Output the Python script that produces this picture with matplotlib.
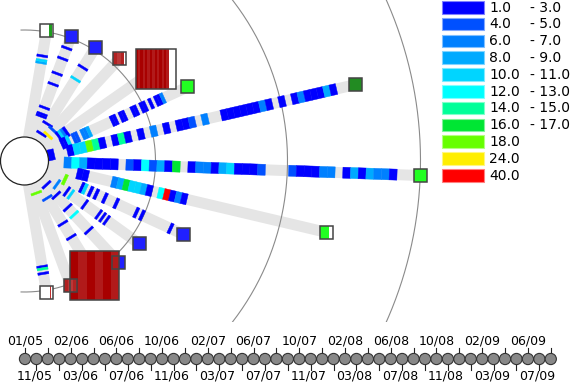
import numpy as np
import matplotlib
matplotlib.use('Agg')
import matplotlib.pyplot as plt
from matplotlib.patches import Polygon, Circle, Rectangle

# value classes shown in the legend
CLASS_LOW = ['1.0', '4.0', '6.0', '8.0', '10.0', '12.0', '14.0', '16.0', '18.0', '24.0', '40.0']
CLASS_HIGH = ['- 3.0', '- 5.0', '- 7.0', '- 9.0', '- 11.0', '- 13.0', '- 15.0', '- 17.0', '', '', '']
CLASS_COLORS = ['#0000ff', '#0050ff', '#0080ff', '#00aaff', '#00d5ff', '#00ffff',
                '#00ff99', '#00e633', '#66ff00', '#ffee00', '#ff0000']

# one ray per item: direction (deg), length (px from hub centre)
RAY_ANGLES = [80.4, 69.5, 58.0, 47.2, 35.0, 24.4, 13.0, -2.1, -13.3, -24.8, -35.8, -47.2, -58.4, -69.7, -80.5]
RAY_LENGTHS = [132.6, 133, 134.3, 139.8, 160, 179.4, 340, 396, 310, 175, 141.7, 139, 134, 133, 133.3]

# monthly slots along each ray: '.' = nothing, '0'..'9','a' = value class
RAY_CODES = [
    '.................................34.0',
    '..........00..0..........0....0......0....0',
    '...0....0......................4.....0',
    '....9..1',
    '......0420',
    '.....004.11.223.......00.00..00.00.0.002',
    '0..044860.060.0.2.0.001.2..00000020.0.0200030',
    '..2530000.1051307.0220340001...100022.0303220',
    '.....00....2374430.5a020',
    '......8.....04.0.0..0...0......0.0.........0',
    '......2....0.4......0......0.0.0',
    '...0.....0......0...5........0',
    '........1............0......0',
    '....8',
    '....................................06.0',
]

# end boxes: size, colour, coloured span (fraction of width), stripe count
BOX_SIZES = [13, 13, 13, 13, 40, 13, 13, 13, 13, 13, 13, 13, 49, 13, 13]
BOX_COLORS = ['#1f9e1f', '#2020ff', '#2020ff', '#b22222', '#a80000', '#22ff22', '#228b22',
              '#22ff22', '#22ff22', '#2020ff', '#2020ff', '#2020ff', '#a80000', '#b22222', '#c03030']
BOX_SPANS = [(0.69, 0.94), (0, 1), (0, 1), (0, 0.88), (0, 0.83), (0, 1), (0, 1), (0, 1),
             (0, 0.73), (0, 1), (0, 1), (0, 1), (0, 1), (0, 1), (0.76, 0.87)]
BOX_STRIPES = [1, 1, 1, 3, 14, 1, 1, 1, 1, 1, 1, 1, 6, 3, 1]

RING_RADII = [131, 263, 396]
N_SLOTS = 48

# time line
N_MONTHS = 47
TOP_LABELS = ['01/05', '02/06', '06/06', '10/06', '02/07', '06/07',
              '10/07', '02/08', '06/08', '10/08', '02/09', '06/09']
BOTTOM_LABELS = ['11/05', '03/06', '07/06', '11/06', '03/07', '07/07',
                 '11/07', '03/08', '07/08', '11/08', '03/09', '07/09']

# layout (pixels)
W, H = 572, 382
CX, CY = 24.5, 161
HUB_R = 24
BAND_HW = 5.5
RADIAL_BOTTOM = 322
TL_X0, TL_STEP, TL_Y, TL_R = 25, 11.43, 359, 5.6


def quad(angle, r1, r2, hw):
    a = np.radians(angle)
    u = np.array([np.cos(a), -np.sin(a)])
    n = np.array([np.sin(a), np.cos(a)])
    c = np.array([CX, CY])
    return [c + r1 * u + hw * n, c + r2 * u + hw * n, c + r2 * u - hw * n, c + r1 * u - hw * n]


def lighten(hexcol, f):
    rgb = np.array(matplotlib.colors.to_rgb(hexcol))
    return tuple(rgb + (1 - rgb) * f)


fig = plt.figure(figsize=(W / 100, H / 100), dpi=100)
ax = fig.add_axes([0, 0, 1, 1])
ax.set_xlim(0, W)
ax.set_ylim(H, 0)
ax.axis('off')

# grey bands
for ang, length in zip(RAY_ANGLES, RAY_LENGTHS):
    ax.add_patch(Polygon(quad(ang, 0, length, BAND_HW), closed=True,
                         facecolor='#e5e5e5', edgecolor='none', zorder=1))

# rings, cut at the bottom of the radial panel
clip = Rectangle((0, 0), W, RADIAL_BOTTOM, transform=ax.transData, facecolor='none', edgecolor='none')
ax.add_patch(clip)
for R in RING_RADII:
    th = np.radians(np.linspace(-91.5, 91.5, 400))
    ring, = ax.plot(CX + R * np.cos(th), CY - R * np.sin(th), color='#8a8a8a', lw=0.8, zorder=1.5)
    ring.set_clip_path(clip)

# coloured monthly segments
for ang, length, code in zip(RAY_ANGLES, RAY_LENGTHS, RAY_CODES):
    step = (length - HUB_R) / N_SLOTS
    for i, ch in enumerate(code):
        if ch == '.':
            continue
        cls = int(ch, 16)
        r1 = HUB_R + i * step
        ax.add_patch(Polygon(quad(ang, r1, r1 + step, BAND_HW), closed=True,
                             facecolor=CLASS_COLORS[cls], edgecolor=CLASS_COLORS[cls],
                             lw=0.3, zorder=2))

# end boxes
for ang, length, s, col, span, nstr in zip(RAY_ANGLES, RAY_LENGTHS, BOX_SIZES, BOX_COLORS,
                                           BOX_SPANS, BOX_STRIPES):
    a = np.radians(ang)
    bx = CX + length * np.cos(a) - s / 2
    by = CY - length * np.sin(a) - s / 2
    ax.add_patch(Rectangle((bx, by), s, s, facecolor='white', edgecolor='none', zorder=4))
    x0, x1 = bx + span[0] * s, bx + span[1] * s
    sw = (x1 - x0) / nstr
    for k in range(nstr):
        c = col if k % 2 == 0 else lighten(col, 0.1)
        ax.add_patch(Rectangle((x0 + k * sw, by), sw, s, facecolor=c, edgecolor='none', zorder=4.1))
    ax.add_patch(Rectangle((bx, by), s, s, facecolor='none', edgecolor='#444444', lw=1.1, zorder=4.2))

# hub
ax.add_patch(Circle((CX, CY), HUB_R, facecolor='white', edgecolor='#222222', lw=0.9, zorder=5))

# legend
for i, (lo, hi, col) in enumerate(zip(CLASS_LOW, CLASS_HIGH, CLASS_COLORS)):
    top = 1 + 16.8 * i
    ax.add_patch(Rectangle((442, top), 42, 12.5, facecolor=col, edgecolor=lighten(col, 0.5),
                           lw=0.8, zorder=3))
    ax.text(489, top + 6.5, lo, ha='left', va='center', fontsize=10, color='black')
    if hi:
        ax.text(530, top + 6.5, hi, ha='left', va='center', fontsize=10, color='black')

# time line
for i in range(N_MONTHS):
    x = TL_X0 + i * TL_STEP
    if i % 2 == 0:
        ax.plot([x, x], [TL_Y - TL_R, TL_Y - TL_R - 5], color='#222222', lw=0.8, zorder=2)
    else:
        ax.plot([x, x], [TL_Y + TL_R, TL_Y + TL_R + 5], color='#222222', lw=0.8, zorder=2)
    ax.add_patch(Circle((x, TL_Y), TL_R, facecolor='#888888', edgecolor='#333333', lw=0.8, zorder=3))
for j, lab in enumerate(TOP_LABELS):
    ax.text(TL_X0 + 4 * j * TL_STEP, TL_Y - TL_R - 5.5, lab, ha='center', va='bottom', fontsize=9)
for j, lab in enumerate(BOTTOM_LABELS):
    ax.text(TL_X0 + (4 * j + 1) * TL_STEP - 2, TL_Y + TL_R + 5, lab, ha='center', va='top', fontsize=9)

fig.savefig('out.png', dpi=100)
